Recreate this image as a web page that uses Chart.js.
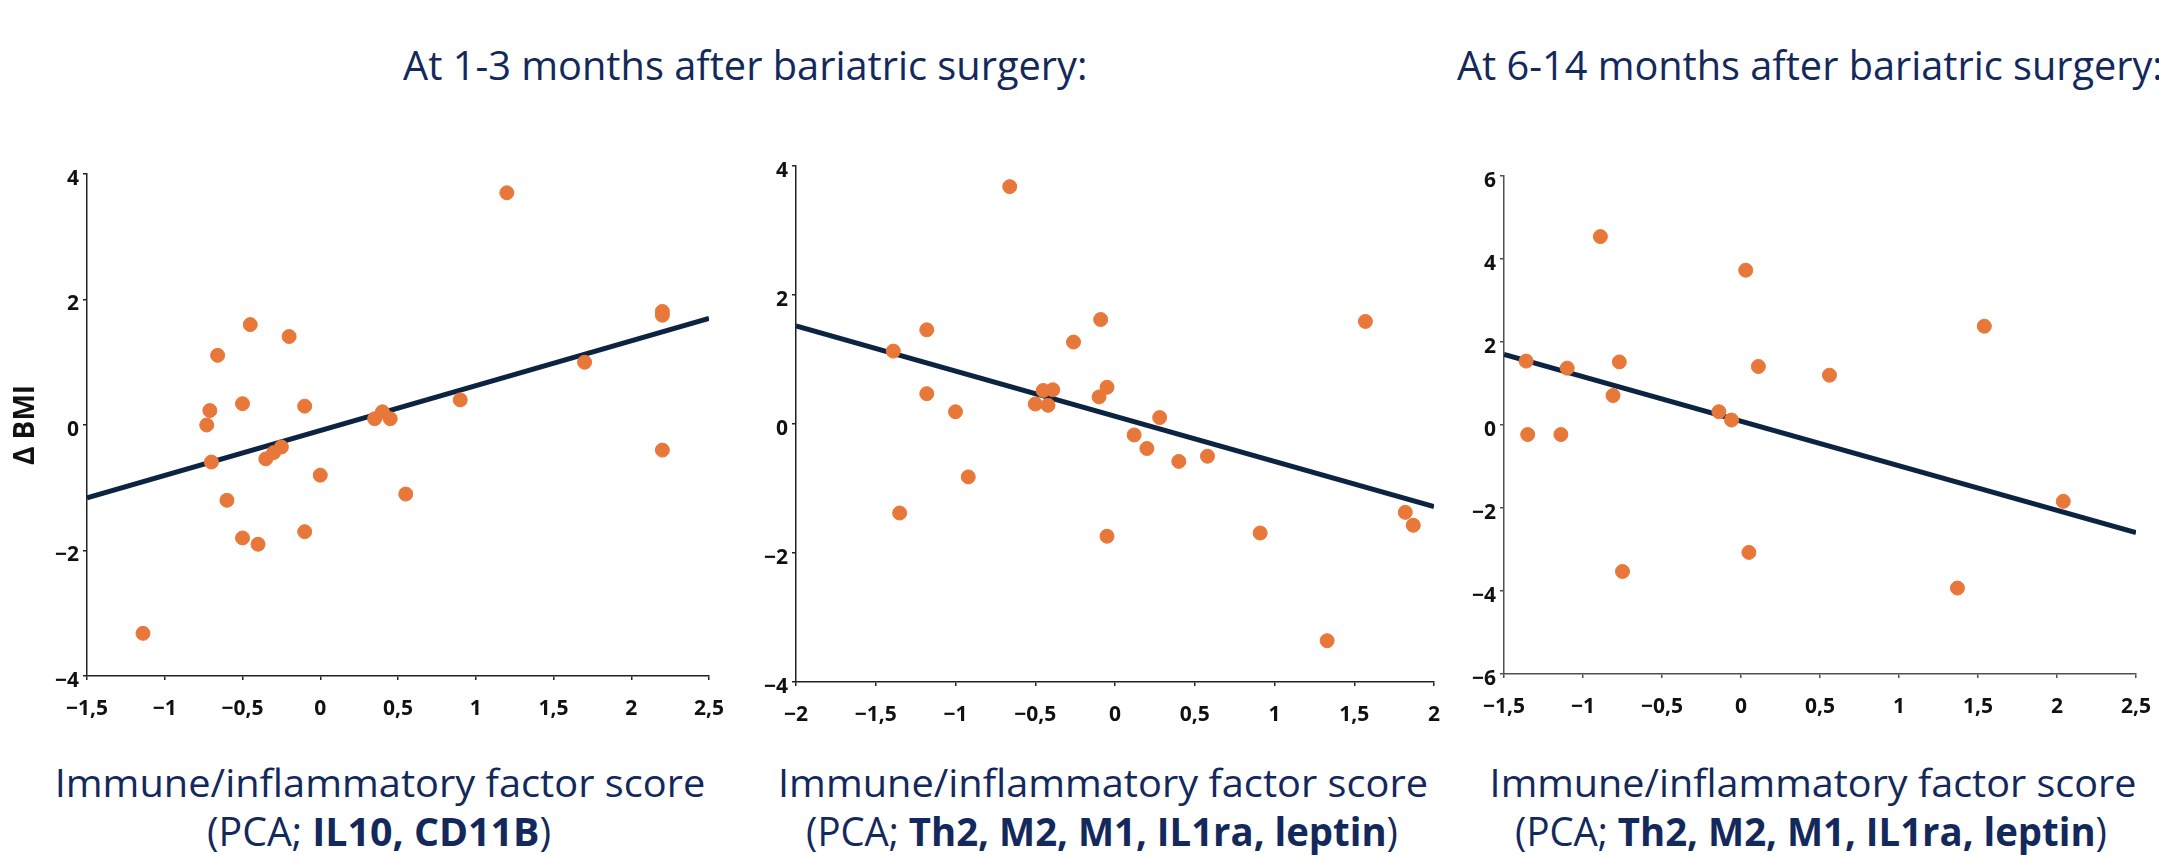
<!DOCTYPE html>
<html>
<head>
<meta charset="utf-8">
<script src="https://cdn.jsdelivr.net/npm/chart.js@4.4.0/dist/chart.umd.min.js"></script>
<style>
  html, body { margin: 0; padding: 0; background: #fff; }
  body { width: 2159px; height: 855px; position: relative; overflow: hidden;
         font-family: 'Open Sans', sans-serif; color: #14295b; }
  canvas { position: absolute; }
  .txt { position: absolute; white-space: nowrap; line-height: 1; }
  .titulo { font-size: 40px; }
  .eje1 { font-size: 39px; }
  .eje2 { font-size: 40px; }
  b { font-weight: 700; }
</style>
</head>
<body>

<div class="txt titulo" data-x="403" data-y="81" data-w="685">At 1-3 months after bariatric surgery:</div>
<div class="txt titulo" data-x="1457" data-y="81" data-w="705">At 6-14 months after bariatric surgery:</div>

<div class="txt eje1" data-cx="380" data-y="797" data-w="651">Immune/inflammatory factor score</div>
<div class="txt eje2" data-cx="379" data-y="847" data-w="344">(PCA; <b>IL10, CD11B</b>)</div>
<div class="txt eje1" data-cx="1103" data-y="797" data-w="650">Immune/inflammatory factor score</div>
<div class="txt eje2" data-cx="1102" data-y="847" data-w="592">(PCA; <b>Th2, M2, M1, IL1ra, leptin</b>)</div>
<div class="txt eje1" data-cx="1813" data-y="797" data-w="647">Immune/inflammatory factor score</div>
<div class="txt eje2" data-cx="1811" data-y="847" data-w="592">(PCA; <b>Th2, M2, M1, IL1ra, leptin</b>)</div>

<canvas id="chart1"></canvas>
<canvas id="chart2"></canvas>
<canvas id="chart3"></canvas>

<script>
// ------- datos -------

// 1-3 meses, PCA IL10 / CD11B
const x1 = [1.20, 2.20, 2.20, -0.45, -0.20, -0.66, 1.70, -0.71, -0.50, -0.10, 0.90, -0.73, 0.40, 0.35,
            0.45, -0.70, -0.35, -0.30, -0.25, 0.00, 2.20, -0.60, 0.55, -0.50, -0.40, -0.10, -1.14];
const y1 = [3.70, 1.81, 1.75, 1.60, 1.41, 1.11, 1.00, 0.23, 0.34, 0.30, 0.40, 0.00, 0.21, 0.10,
            0.10, -0.59, -0.54, -0.44, -0.35, -0.80, -0.40, -1.20, -1.10, -1.80, -1.90, -1.70, -3.32];
const rectaX1 = [-1.5, 2.5];
const rectaY1 = [-1.16, 1.70];
const ticksX1 = [-1.5, -1, -0.5, 0, 0.5, 1, 1.5, 2, 2.5];
const ticksY1 = [-4, -2, 0, 2, 4];

// 1-3 meses, PCA Th2 / M2 / M1 / IL1ra / leptin
const x2 = [-0.66, 1.57, -0.09, -1.18, -0.26, -1.39, -1.18, -1.00, -0.45, -0.39, -0.05, -0.10, -0.50,
            -0.42, 0.28, 0.12, 0.20, 0.40, 0.58, -0.92, -1.35, -0.05, 0.91, 1.82, 1.87, 1.33];
const y2 = [3.68, 1.59, 1.62, 1.46, 1.27, 1.13, 0.47, 0.19, 0.52, 0.53, 0.57, 0.42, 0.31,
            0.29, 0.10, -0.17, -0.38, -0.58, -0.50, -0.82, -1.38, -1.74, -1.69, -1.37, -1.57, -3.36];
const rectaX2 = [-2, 2];
const rectaY2 = [1.52, -1.28];
const ticksX2 = [-2, -1.5, -1, -0.5, 0, 0.5, 1, 1.5, 2];
const ticksY2 = [-4, -2, 0, 2, 4];

// 6-14 meses, PCA Th2 / M2 / M1 / IL1ra / leptin
const x3 = [-0.89, 0.03, 1.54, -1.36, -1.10, -0.77, 0.11, 0.56, -0.81, -0.14, -0.06, -1.35, -1.14,
            2.04, 0.05, -0.75, 1.37];
const y3 = [4.54, 3.73, 2.38, 1.54, 1.37, 1.52, 1.41, 1.20, 0.71, 0.32, 0.12, -0.23, -0.23,
            -1.84, -3.07, -3.53, -3.93];
const rectaX3 = [-1.5, 2.5];
const rectaY3 = [1.70, -2.59];
const ticksX3 = [-1.5, -1, -0.5, 0, 0.5, 1, 1.5, 2, 2.5];
const ticksY3 = [-6, -4, -2, 0, 2, 4, 6];

// ------- colores -------
const NARANJA = '#e8773a';
const AZUL = '#0c2341';

// posicion del area de dibujo de cada panel (px en la pagina)
const paneles = [
  { id: 'chart1', left: 87,   top: 174, right: 709,  bottom: 676, ejeY: 87, tituloY: 'Δ BMI', colorEje: '#222',
    xs: x1, ys: y1, rx: rectaX1, ry: rectaY1, tx: ticksX1, ty: ticksY1 },
  { id: 'chart2', left: 796,  top: 166, right: 1434, bottom: 682, ejeY: 70, tituloY: '', colorEje: '#222',
    xs: x2, ys: y2, rx: rectaX2, ry: rectaY2, tx: ticksX2, ty: ticksY2 },
  { id: 'chart3', left: 1504, top: 176, right: 2136, bottom: 674, ejeY: 70, tituloY: '', colorEje: '#505050',
    xs: x3, ys: y3, rx: rectaX3, ry: rectaY3, tx: ticksX3, ty: ticksY3 }
];

// el padding derecho tiene que ser mayor que medio rotulo + padding del tick,
// si no Chart.js encoge el area de dibujo
const PAD_TOP = 20, PAD_RIGHT = 40, EJE_X = 50;

function fmt(v) {
  return String(v).replace('.', ',').replace('-', '\u2212');
}

function ejeComun(ticksArr, color) {
  return {
    type: 'linear',
    min: ticksArr[0],
    max: ticksArr[ticksArr.length - 1],
    afterBuildTicks: s => { s.ticks = ticksArr.map(v => ({ value: v })); },
    grid: { drawOnChartArea: false, drawTicks: true, tickLength: 4, color: color, lineWidth: 1.5 },
    border: { display: true, color: color, width: 1.5 },
    ticks: {
      color: '#111',
      font: { family: "'Open Sans', sans-serif", size: 21, weight: 'bold' },
      callback: v => fmt(v)
    }
  };
}

function crearPanel(p) {
  const canvas = document.getElementById(p.id);
  const cLeft = p.left - p.ejeY;
  const cTop = p.top - PAD_TOP;
  const w = (p.right + PAD_RIGHT) - cLeft;
  const h = (p.bottom + EJE_X) - cTop;
  canvas.style.left = cLeft + 'px';
  canvas.style.top = cTop + 'px';
  canvas.width = w;
  canvas.height = h;
  canvas.style.width = w + 'px';
  canvas.style.height = h + 'px';

  const ejeX = ejeComun(p.tx, p.colorEje);
  ejeX.ticks.padding = 16;
  ejeX.afterFit = s => { s.height = EJE_X; };

  const ejeY = ejeComun(p.ty, p.colorEje);
  ejeY.ticks.padding = 4;
  ejeY.ticks.labelOffset = 5;
  ejeY.afterFit = s => { s.width = p.ejeY; };
  ejeY.title = {
    display: p.tituloY !== '',
    text: p.tituloY,
    color: '#111',
    font: { family: "'Open Sans', sans-serif", size: 28, weight: 'bold' },
    padding: { top: 9, bottom: 0 }
  };

  return new Chart(canvas, {
    type: 'scatter',
    data: {
      datasets: [
        {
          data: p.xs.map((x, i) => ({ x: x, y: p.ys[i] })),
          backgroundColor: NARANJA,
          borderColor: NARANJA,
          pointRadius: 7,
          pointHoverRadius: 7
        },
        {
          type: 'line',
          data: p.rx.map((x, i) => ({ x: x, y: p.ry[i] })),
          borderColor: AZUL,
          borderWidth: 5,
          pointRadius: 0,
          fill: false
        }
      ]
    },
    options: {
      responsive: false,
      animation: false,
      layout: { padding: { top: PAD_TOP, right: PAD_RIGHT, left: 0, bottom: 0 } },
      plugins: { legend: { display: false }, tooltip: { enabled: false } },
      scales: { x: ejeX, y: ejeY }
    }
  });
}

// coloca los textos: ajusta el ancho al del original
function colocarTextos() {
  document.querySelectorAll('.txt').forEach(el => {
    const fs = parseFloat(getComputedStyle(el).fontSize);
    const base = parseFloat(el.dataset.y);
    el.style.top = (base - fs * 0.888) + 'px';
    const k = parseFloat(el.dataset.w) / el.offsetWidth;
    if (el.dataset.cx) {
      el.style.left = el.dataset.cx + 'px';
      el.style.transformOrigin = 'center';
      el.style.transform = 'translateX(-50%) scaleX(' + k.toFixed(3) + ')';
    } else {
      el.style.left = el.dataset.x + 'px';
      el.style.transformOrigin = 'left';
      el.style.transform = 'scaleX(' + k.toFixed(3) + ')';
    }
  });
}

colocarTextos();
paneles.forEach(crearPanel);
</script>
</body>
</html>
